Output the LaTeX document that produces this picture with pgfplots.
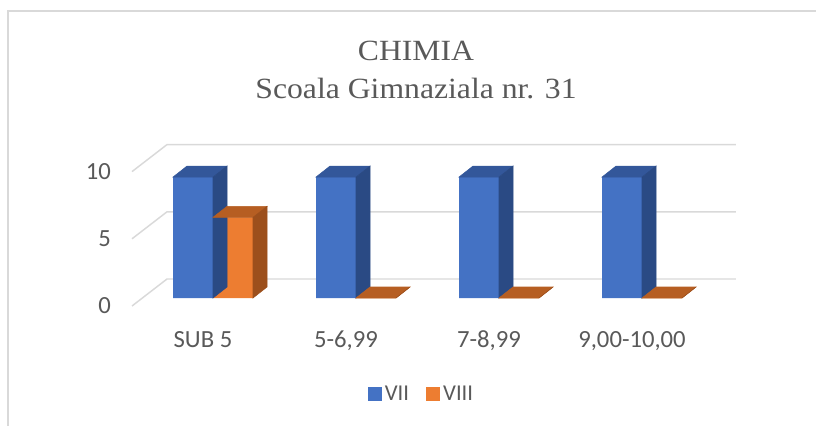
\documentclass[border=0pt]{standalone}
\usepackage{pgfplots}
\pgfplotsset{compat=1.18}
\usepackage{fontspec}
\setmainfont{Liberation Serif}
\newfontfamily\timesf{Liberation Serif}
\newfontfamily\carlito{Carlito}

\definecolor{txt}{HTML}{595959}
\definecolor{gridc}{HTML}{D9D9D9}
\definecolor{blueF}{HTML}{4472C4}
\definecolor{blueT}{HTML}{33579A}
\definecolor{blueS}{HTML}{2A4A84}
\definecolor{orF}{HTML}{ED7D31}
\definecolor{orT}{HTML}{B65E22}
\definecolor{orS}{HTML}{9C4F1C}

% clase VII si VIII, numar de elevi pe intervale de note
\pgfplotstableread{
x val
0 9
1 9
2 9
3 9
}\seven
\pgfplotstableread{
x val
0 6
1 0
2 0
3 0
}\eight

% fata de sus si fata laterala a barei (efect 3D), #1 = deplasarea barei
\pgfplotsset{
  depth/.style n args={3}{
    only marks, scatter, forget plot,
    mark=*, mark size=0pt, mark options={draw=none,fill=none},
    visualization depends on={rawy \as \val},
    scatter/@pre marker code/.code={
      \pgfmathsetmacro\hh{\val*10.08}
      \fill[#2] (#1-15pt,0pt) -- ++(10.5pt,8.25pt) -- ++(30pt,0pt) -- ++(-10.5pt,-8.25pt) -- cycle;
      \fill[#3] (#1+15pt,0pt) -- ++(10.5pt,8.25pt) -- ++(0pt,-\hh pt) -- ++(-10.5pt,-8.25pt) -- cycle;
    },
    scatter/@post marker code/.code={},
  },
  sq/.style={legend image code/.code={\fill[##1] (0pt,-5.25pt) rectangle (10.5pt,5.25pt);}},
}

\begin{document}
\begin{tikzpicture}
\useasboundingbox (0,0) rectangle (612pt,-318.75pt);
\draw[gridc, line width=1.2pt] (6pt,-330pt) -- (6pt,-8.25pt) -- (620pt,-8.25pt);

\node[txt, font=\timesf\fontsize{22}{26}\selectfont, anchor=base, xscale=1.08] at (312pt,-45pt) {CHIMIA};
\node[txt, font=\timesf\fontsize{22}{26}\selectfont, anchor=base, xscale=1.08] at (312pt,-73.5pt) {Scoala Gimnaziala nr. 31};

\begin{axis}[
  at={(159.75pt,-223.5pt)}, anchor=origin,
  x=107.25pt, y=10.08pt,
  xmin=-0.713, xmax=3.9, ymin=0, ymax=11.5,
  axis line style={draw=none},
  major tick length=0pt,
  clip=false,
  xtick={0,1,2,3},
  xticklabels={SUB 5,{5-6,99},{7-8,99},{9,00-10,00}},
  ytick={0,5,10},
  yticklabels={0,5,10},
  tick label style={font=\carlito\fontsize{18.5}{20}\selectfont, text=txt, inner sep=0pt},
  xticklabel style={anchor=base, yshift=-36.75pt, xshift=-7.5pt},
  yticklabel style={anchor=east, yshift=-5.9pt},
  legend columns=2,
  legend style={draw=none, fill=none, at={(0.4714,-0.621)}, anchor=center,
    font=\carlito\fontsize{17}{20}\selectfont, text=txt,
    /tikz/every even column/.append style={column sep=11pt}},
]
% liniile de grila (perete spate + podea)
\pgfplotsinvokeforeach{0,5,10}{
  \draw[gridc, line width=1.1pt] (axis cs:-0.5664,#1-0.595) -- (axis cs:-0.3217,#1+1.414) -- (axis cs:3.657,#1+1.414);
}

\addplot[depth={-15pt}{blueT}{blueS}] table[x=x,y=val]{\seven};
\addplot[ybar, bar width=30pt, bar shift=-15pt, fill=blueF, draw=none, sq] table[x=x,y=val]{\seven};
\addlegendentry{VII}

\addplot[depth={15pt}{orT}{orS}] table[x=x,y=val]{\eight};
\addplot[ybar, bar width=30pt, bar shift=15pt, fill=orF, draw=none, sq] table[x=x,y=val]{\eight};
\addlegendentry{VIII}
\end{axis}
\end{tikzpicture}
\end{document}
